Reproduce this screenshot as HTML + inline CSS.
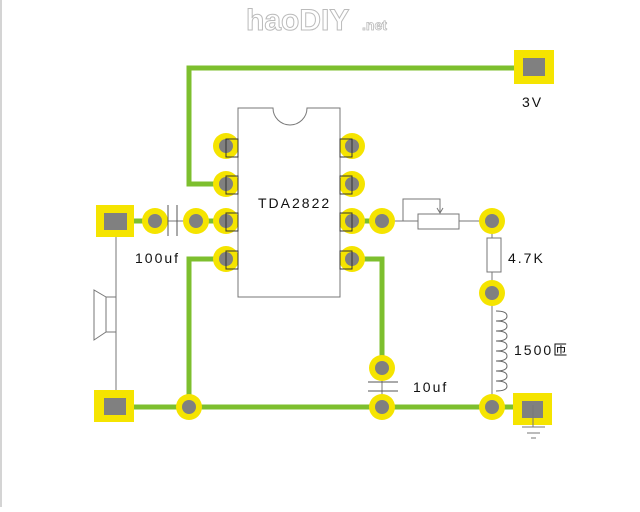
<!DOCTYPE html>
<html><head><meta charset="utf-8"><style>
body{margin:0;width:640px;height:507px;background:#fff;overflow:hidden}
</style></head><body>
<svg width="640" height="507" xmlns="http://www.w3.org/2000/svg" font-family="Liberation Sans, Noto Sans CJK SC, sans-serif">
<line x1="1" y1="0" x2="1" y2="507" stroke="#aaa" stroke-width="1"/>
<text x="246" y="30" font-size="30" font-weight="bold" fill="#fff" stroke="#bbb" stroke-width="1">haoDIY</text>
<text x="362" y="30" font-size="14" font-weight="bold" fill="#fff" stroke="#bbb" stroke-width="0.8">.net</text>
<g stroke="#7dbf2e" stroke-width="5" fill="none">
<polyline points="520,68 189,68 189,184 226,184"/>
<polyline points="226,259 189,259 189,407"/>
<polyline points="134,407 513,407"/>
<polyline points="352,259 382,259 382,368"/>
<line x1="134" y1="221" x2="155" y2="221"/>
<line x1="196" y1="221" x2="226" y2="221"/>
<line x1="352" y1="221" x2="382" y2="221"/>
</g>
<g stroke="#777" stroke-width="1" fill="none">
<line x1="155" y1="221" x2="196" y2="221"/>
<line x1="116" y1="237" x2="116" y2="390"/>
<rect x="106" y="297" width="10" height="35"/>
<polyline points="106,297 94,290 94,340 106,332"/>
<line x1="382" y1="221" x2="418" y2="221"/>
<line x1="459" y1="221" x2="492" y2="221"/>
<polyline points="403,221 403,199 440,199 440,213"/>
<polyline points="437,208 440,213 443,208"/>
<line x1="492" y1="221" x2="492" y2="407"/>
<line x1="533" y1="410" x2="533" y2="427"/>
<line x1="522" y1="427" x2="545" y2="427"/>
<line x1="527" y1="433" x2="540" y2="433"/>
<line x1="531" y1="438" x2="536" y2="438"/>
<line x1="382" y1="368" x2="382" y2="407"/>
</g>
<rect x="96" y="205" width="38" height="32" fill="#f5e400"/>
<rect x="104" y="213" width="23" height="17" fill="#808080"/>
<rect x="94" y="390" width="40" height="32" fill="#f5e400"/>
<rect x="104" y="398" width="22" height="17" fill="#808080"/>
<rect x="514" y="50" width="40" height="34" fill="#f5e400"/>
<rect x="523" y="58" width="22" height="18" fill="#808080"/>
<rect x="513" y="393" width="39" height="32" fill="#f5e400"/>
<rect x="522" y="401" width="21" height="17" fill="#808080"/>
<line x1="533" y1="405" x2="533" y2="427" stroke="#777"/>
<g fill="#f5e400">
<circle cx="155" cy="221" r="13"/><circle cx="196" cy="221" r="13"/>
<circle cx="382" cy="221" r="13"/><circle cx="492" cy="221" r="13"/>
<circle cx="492" cy="293" r="13"/><circle cx="382" cy="368" r="13"/>
<circle cx="382" cy="407" r="13"/><circle cx="189" cy="407" r="13"/>
<circle cx="492" cy="407" r="13"/>
<circle cx="226" cy="146" r="13"/><circle cx="226" cy="184" r="13"/><circle cx="226" cy="221" r="13"/><circle cx="226" cy="259" r="13"/>
<circle cx="352" cy="146" r="13"/><circle cx="352" cy="184" r="13"/><circle cx="352" cy="221" r="13"/><circle cx="352" cy="259" r="13"/>
</g>
<g fill="#fff" stroke="#777">
<rect x="418" y="214" width="41" height="15"/>
<rect x="487" y="238" width="14" height="34"/>
<path d="M238,108 H273 A17,17 0 0 0 307,108 H340 V297 H238 Z"/>
</g>
<g fill="#fff" stroke="#555">
<line x1="168" y1="205" x2="168" y2="236"/><line x1="177" y1="205" x2="177" y2="236"/>
<line x1="368" y1="382" x2="398" y2="382"/><line x1="368" y1="391" x2="398" y2="391"/>
</g>
<path d="M496,311 q11,0 11,5 q0,5 -11,5 q11,0 11,5 q0,5 -11,5 q11,0 11,5 q0,5 -11,5 q11,0 11,5 q0,5 -11,5 q11,0 11,5 q0,5 -11,5 q11,0 11,5 q0,5 -11,5 q11,0 11,5 q0,5 -11,5 q11,0 11,5 q0,5 -11,5" fill="none" stroke="#666"/>
<g fill="#808080">
<circle cx="155" cy="221" r="7"/><circle cx="196" cy="221" r="7"/>
<circle cx="382" cy="221" r="7"/><circle cx="492" cy="221" r="7"/>
<circle cx="492" cy="293" r="7"/><circle cx="382" cy="368" r="7"/>
<circle cx="382" cy="407" r="7"/><circle cx="189" cy="407" r="7"/>
<circle cx="492" cy="407" r="7"/>
<circle cx="226" cy="146" r="7"/><circle cx="226" cy="184" r="7"/><circle cx="226" cy="221" r="7"/><circle cx="226" cy="259" r="7"/>
<circle cx="352" cy="146" r="7"/><circle cx="352" cy="184" r="7"/><circle cx="352" cy="221" r="7"/><circle cx="352" cy="259" r="7"/>
</g>
<g fill="none" stroke="#333" stroke-width="1">
<rect x="226" y="139" width="12" height="18"/><rect x="226" y="176" width="12" height="18"/><rect x="226" y="213" width="12" height="18"/><rect x="226" y="251" width="12" height="18"/>
<rect x="340" y="139" width="12" height="18"/><rect x="340" y="176" width="12" height="18"/><rect x="340" y="213" width="12" height="18"/><rect x="340" y="251" width="12" height="18"/>
</g>
<g font-size="14" fill="#111" letter-spacing="2">
<text x="258" y="208">TDA2822</text>
<text x="135" y="263">100uf</text>
<text x="522" y="107">3V</text>
<text x="508" y="263">4.7K</text>
<text x="514" y="355">1500匝</text>
<text x="413" y="392">10uf</text>
</g>
</svg>
</body></html>
